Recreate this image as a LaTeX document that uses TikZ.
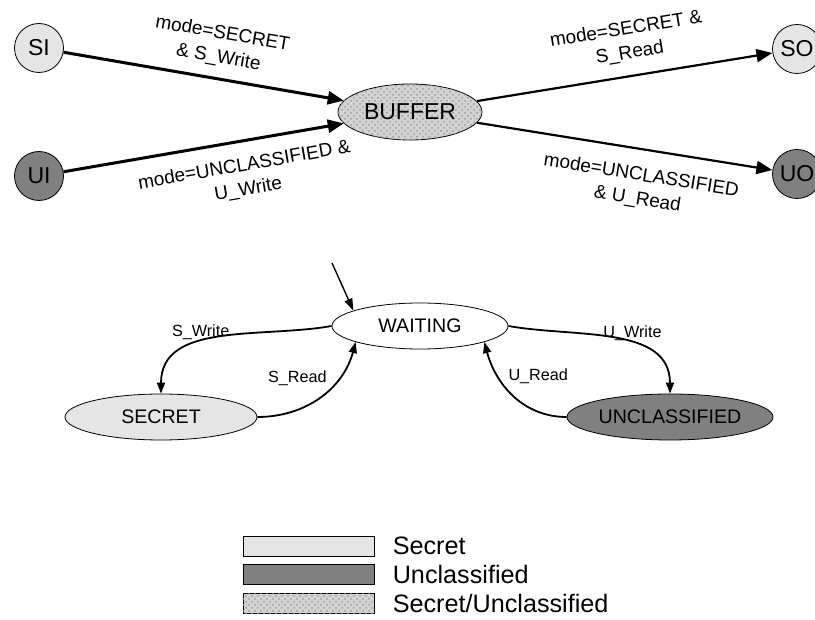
\documentclass[tikz,border=0pt]{standalone}
\usepackage{fontspec}
\setmainfont{Liberation Sans}
\usetikzlibrary{shapes.geometric,arrows.meta,patterns,positioning}

\definecolor{secretgray}{gray}{0.90}
\definecolor{unclassgray}{gray}{0.50}

\begin{document}
\begin{tikzpicture}[%
        x=0.5pt, y=0.5pt,
        port/.style={circle, draw=black, fill=#1, minimum size=24.5pt, inner sep=0pt, font=\fontsize{11.5}{13}\selectfont},
        store/.style={ellipse, draw=black, minimum width=72pt, minimum height=28pt, inner sep=0pt, font=\fontsize{11.5}{13}\selectfont},
        mode/.style={ellipse, draw=black, fill=#1, minimum height=23pt, inner sep=0pt, font=\fontsize{9.8}{12}\selectfont},
        mixed/.style={fill=gray!35, postaction={pattern=crosshatch dots, pattern color=gray!75}},
        bigarrow/.style={line width=1.5pt, -{Triangle[length=8pt,width=6.5pt]}},
        flowarrow/.style={line width=1.1pt, -{Triangle[length=8pt,width=6.5pt]}},
        transarrow/.style={line width=0.9pt, -{Triangle[length=5.5pt,width=4pt]}},
        cond/.style={align=center, font=\fontsize{9.5}{12}\selectfont},
        trans/.style={inner sep=1pt, font=\fontsize{8.1}{10}\selectfont},
        keybox/.style={rectangle, draw=black, minimum width=65.5pt, minimum height=10pt, inner sep=0pt},
        keytext/.style={inner sep=0pt, font=\fontsize{12.6}{14}\selectfont}]
        \useasboundingbox (0,0) rectangle (815,-620);

        % Data flow
        \node [port=secretgray] (si) at (39,-48) {SI};
        \node [port=unclassgray] (ui) at (39,-176) {UI};
        \node [store, mixed] (buffer) at (410,-112) {BUFFER};
        \node [port=secretgray] (so) at (797,-49) {SO};
        \node [port=unclassgray] (uo) at (797,-174) {UO};

        \draw[bigarrow] (si) -- node[cond, sloped, above=2pt, pos=0.54] {mode=SECRET\\\& S\_Write} (buffer);
        \draw[bigarrow] (ui) -- node[cond, sloped, below=4pt, pos=0.63] {mode=UNCLASSIFIED \&\\U\_Write} (buffer);
        \draw[flowarrow] (buffer) -- node[cond, sloped, above=3pt, pos=0.53] {mode=SECRET \&\\S\_Read} (so);
        \draw[flowarrow] (buffer) -- node[cond, sloped, below=5pt, pos=0.57] {mode=UNCLASSIFIED\\\& U\_Read} (uo);

        % State machine
        \node [mode=white, minimum width=88pt] (waiting) at (420,-326) {WAITING};
        \node [mode=secretgray, minimum width=96pt] (secret) at (161,-417) {SECRET};
        \node [mode=unclassgray, minimum width=103pt] (unclass) at (670,-417) {UNCLASSIFIED};
        \coordinate (init) at (332,-263);

        \draw[line width=0.7pt, -{Triangle[length=6pt,width=4pt]}] (init) -- (waiting.167);
        \draw[transarrow] (waiting.west) to[out=190, in=90] node[trans, pos=0.6, above] {S\_Write} (secret.north);
        \draw[transarrow] (secret.east) to[out=0, in=-105] node[trans, pos=0.6, above left] {S\_Read} (waiting.194);
        \draw[transarrow] (waiting.east) to[out=-10, in=90] node[trans, pos=0.6, above] {U\_Write} (unclass.north);
        \draw[transarrow] (unclass.west) to[out=180, in=-75] node[trans, pos=0.6, above right] {U\_Read} (waiting.-14);

        % Legend
        \node [keybox, fill=secretgray] (keysecret) at (308.5,-546) {};
        \node [keybox, fill=unclassgray, below=4pt of keysecret] (keyunclass) {};
        \node [keybox, mixed, below=4pt of keyunclass] (keymixed) {};
        \node [keytext, right=9pt of keysecret] (txtsecret) {Secret};
        \node [keytext, right=9pt of keyunclass] (txtunclass) {Unclassified};
        \node [keytext, right=9pt of keymixed] (txtmixed) {Secret/Unclassified};
    \end{tikzpicture}
\end{document}
